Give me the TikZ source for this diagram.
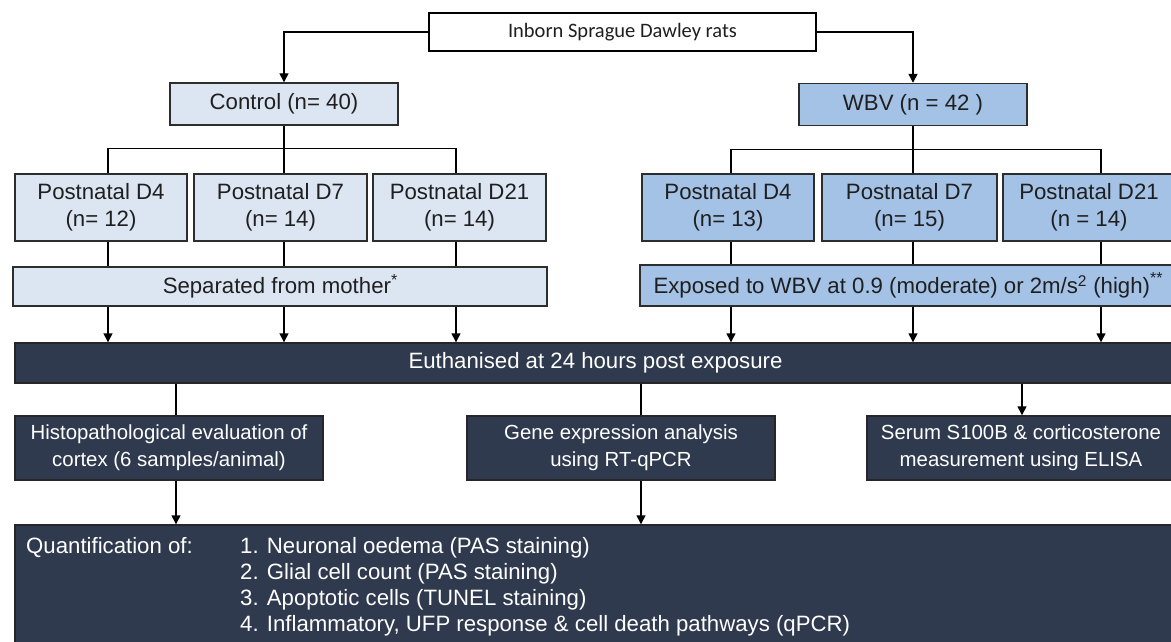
\documentclass[tikz,border=0pt]{standalone}
\usepackage{fontspec}
\setmainfont{Liberation Sans}
\newfontfamily\calfont{Carlito}
\usetikzlibrary{arrows.meta}

\definecolor{ctrlblue}{RGB}{220,230,242}
\definecolor{wbvblue}{RGB}{163,194,230}
\definecolor{navy}{RGB}{47,58,78}
\definecolor{rim}{RGB}{45,45,45}

\tikzset{
  base/.style={rectangle, draw=rim, line width=1.4pt, inner sep=0pt, align=center, text=black!88,
    font=\fontsize{22.2}{27}\selectfont},
  ctrlbox/.style={base, fill=ctrlblue},
  wbvbox/.style={base, fill=wbvblue},
  darkbox/.style={base, fill=navy, draw=black!85, text=white},
  stepbox/.style={darkbox, minimum width=308, minimum height=64, font=\fontsize{20.4}{27}\selectfont},
  conn/.style={line width=1.4pt, black},
  arr/.style={conn, -{Triangle[length=9pt,width=9pt]}}
}

\begin{document}
\begin{tikzpicture}[x=1pt,y=1pt,yscale=-1,xscale=1]

\fill[white] (0,0) rectangle (1171,642);
\useasboundingbox (0,0) rectangle (1171,642);

% branch positions
\coordinate (c1) at (108,0);
\coordinate (c2) at (284,0);
\coordinate (c3) at (456,0);
\coordinate (w1) at (731,0);
\coordinate (w2) at (913,0);
\coordinate (w3) at (1101,0);
\coordinate (h1) at (176,0);
\coordinate (h2) at (641,0);
\coordinate (h3) at (1022,0);

\node[base, draw=black, minimum width=387, minimum height=38, font=\calfont\fontsize{20.5}{24}\selectfont] (rats) at (622.5,32) {Inborn Sprague Dawley rats};

\node[ctrlbox, minimum width=228, minimum height=42] (ctrl) at (284,104) {Control (n= 40)};
\node[wbvbox, minimum width=228, minimum height=42] (wbv) at (913,104.5) {WBV (n = 42 )};

\node[ctrlbox, minimum width=172, minimum height=67] (cD4) at (101,207.5) {Postnatal D4\\(n= 12)};
\node[ctrlbox, minimum width=173, minimum height=67] (cD7) at (280.5,207.5) {Postnatal D7\\(n= 14)};
\node[ctrlbox, minimum width=173, minimum height=67] (cD21) at (459.5,207.5) {Postnatal D21\\(n= 14)};

\node[wbvbox, minimum width=172, minimum height=67] (wD4) at (728,207.5) {Postnatal D4\\(n= 13)};
\node[wbvbox, minimum width=175, minimum height=67] (wD7) at (909.5,207.5) {Postnatal D7\\(n= 15)};
\node[wbvbox, minimum width=172, minimum height=67] (wD21) at (1089,207.5) {Postnatal D21\\(n = 14)};

\node[ctrlbox, minimum width=534, minimum height=39] (sep) at (280,286.5) {Separated from mother\raisebox{8pt}{\fontsize{16}{16}\selectfont *}};
\node[wbvbox, minimum width=536, minimum height=41] (expo) at (908,285.5) {Exposed to WBV at 0.9 (moderate) or 2m/s\textsuperscript{2} (high)\raisebox{10pt}{\fontsize{16}{16}\selectfont **}};

\node[darkbox, minimum width=1161, minimum height=40] (euth) at (595.5,363) {Euthanised at 24 hours post exposure};

\node[stepbox] (histo) at (169,448) {Histopathological evaluation of\\cortex (6 samples/animal)};
\node[stepbox] (gene) at (621,448) {Gene expression analysis\\using RT-qPCR};
\node[stepbox] (serum) at (1021,448) {Serum S100B \& corticosterone\\measurement using ELISA};

\node[darkbox, minimum width=1161, minimum height=140] (quant) at (595.5,595) {};
\node[anchor=base west, inner sep=0pt, text=white, font=\fontsize{22.2}{26}\selectfont] (qhead) at (26,553) {Quantification of:};
\foreach \t [count=\i] in {Neuronal oedema (PAS staining), Glial cell count (PAS staining), Apoptotic cells (TUNEL staining), {Inflammatory, UFP response \& cell death pathways (qPCR)}}
  \node[anchor=base west, inner sep=0pt, text=white, font=\fontsize{22.2}{26}\selectfont] (q\i) at (240,553+26*\i-26) {\i. \t};

% connectors
\draw[arr] (rats.west) -| (ctrl.north);
\draw[arr] (rats.east) -| (wbv.north);

\draw[conn] (ctrl.south) -- (ctrl.south |- cD7.north);
\draw[conn] (cD4.north -| c1) -- ++(0,-25) -| (cD21.north -| c3);
\draw[conn] (wbv.south) -- (wbv.south |- wD7.north);
\draw[conn] (wD4.north -| w1) -- ++(0,-24) -| (wD21.north -| w3);

\foreach \x/\b in {c1/cD4, c2/cD7, c3/cD21} {
  \draw[conn] (\b.south -| \x) -- (sep.north -| \x);
  \draw[arr] (sep.south -| \x) -- (euth.north -| \x);
}
\foreach \x/\b in {w1/wD4, w2/wD7, w3/wD21} {
  \draw[conn] (\b.south -| \x) -- (expo.north -| \x);
  \draw[arr] (expo.south -| \x) -- (euth.north -| \x);
}

\draw[conn] (euth.south -| h1) -- (histo.north -| h1);
\draw[conn] (euth.south -| h2) -- (gene.north -| h2);
\draw[arr] (euth.south -| h3) -- (serum.north -| h3);
\draw[arr] (histo.south -| h1) -- (quant.north -| h1);
\draw[arr] (gene.south -| h2) -- (quant.north -| h2);

\end{tikzpicture}
\end{document}
